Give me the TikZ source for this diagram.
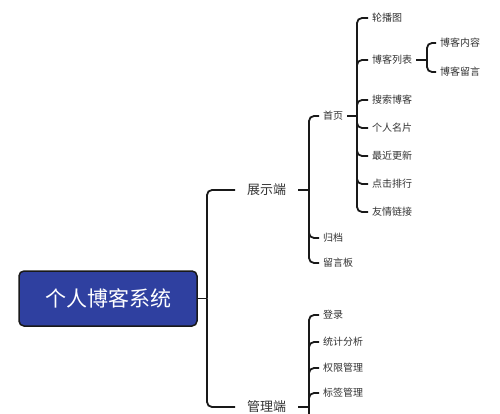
\documentclass[tikz,border=0pt]{standalone}
\usepackage{fontspec}
\setmainfont{Noto Sans CJK SC}
\definecolor{rootblue}{RGB}{47,64,160}
\definecolor{txt}{RGB}{51,51,51}
\definecolor{ln}{RGB}{25,25,25}
\begin{document}
\begin{tikzpicture}[x=1pt,y=-1pt,
  conn/.style={draw=ln,line width=1.8pt,rounded corners=5pt},
  rootbox/.style={draw=ln,line width=1.5pt,fill=rootblue,rounded corners=5pt,minimum width=178pt,minimum height=55pt,text=white,font=\fontsize{21}{24}\selectfont,inner sep=0pt},
  lvone/.style={anchor=west,inner xsep=12pt,inner ysep=0pt,text=txt,font=\fontsize{13}{15}\selectfont},
  leaf/.style={anchor=west,inner xsep=4pt,inner ysep=0pt,text=txt,font=\fontsize{10}{12}\selectfont}]
\useasboundingbox (0,0) rectangle (500,414);
\fill[white] (0,0) rectangle (500,414);
% nodes
\node[rootbox] (root) at (108,298.5) {个人博客系统};
\node[lvone] (zs) at (235,190) {展示端};
\node[lvone] (gl) at (235,407) {管理端};
\node[leaf] (sy) at (319,116) {首页};
\node[leaf] (gd) at (319,238) {归档};
\node[leaf] (lyb) at (319,263) {留言板};
\node[leaf] (lbt) at (368,18) {轮播图};
\node[leaf] (bklb) at (368,60) {博客列表};
\node[leaf] (ssbk) at (368,100) {搜索博客};
\node[leaf] (grmp) at (368,128) {个人名片};
\node[leaf] (zjgx) at (368,156) {最近更新};
\node[leaf] (djph) at (368,184) {点击排行};
\node[leaf] (yqlj) at (368,212) {友情链接};
\node[leaf] (bknr) at (436,43) {博客内容};
\node[leaf] (bkly) at (436,72) {博客留言};
\node[leaf] (dl) at (319,315) {登录};
\node[leaf] (tjfx) at (319,342) {统计分析};
\node[leaf] (qxgl) at (319,368) {权限管理};
\node[leaf] (bqgl) at (319,393) {标签管理};
% junctions
\coordinate (j0) at (207,298.5);
\coordinate (j1) at (309,190);
\coordinate (j2) at (357,116);
\coordinate (j3) at (427,60);
\coordinate (j4) at (309,407);
\coordinate (jend) at (309,430);
% connectors
\draw[conn] (root.east) -- (j0);
\foreach \c in {zs,gl} \draw[conn] (j0) |- (\c.west);
\draw[conn] (zs.east) -- (j1);
\foreach \c in {sy,gd,lyb} \draw[conn] (j1) |- (\c.west);
\draw[conn] (sy.east) -- (j2);
\foreach \c in {lbt,bklb,ssbk,grmp,zjgx,djph,yqlj} \draw[conn] (j2) |- (\c.west);
\draw[conn] (bklb.east) -- (j3);
\foreach \c in {bknr,bkly} \draw[conn] (j3) |- (\c.west);
\draw[conn] (gl.east) -- (j4);
\foreach \c in {dl,tjfx,qxgl,bqgl} \draw[conn] (j4) |- (\c.west);
\draw[conn] (j4) -- (jend);
\end{tikzpicture}
\end{document}
